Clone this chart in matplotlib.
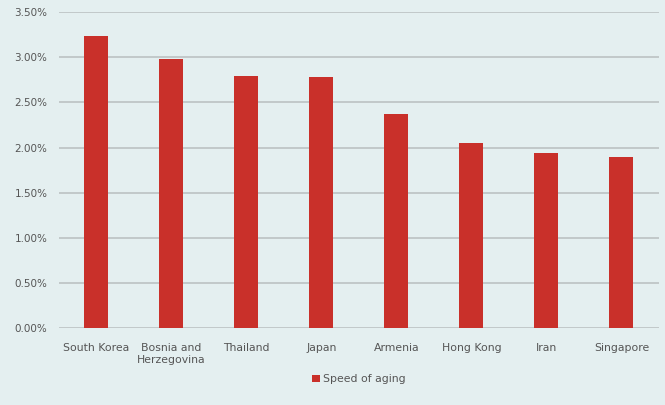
import matplotlib.pyplot as plt
from matplotlib.ticker import PercentFormatter

# dati
paesi = ['South Korea', 'Bosnia and\nHerzegovina', 'Thailand', 'Japan',
         'Armenia', 'Hong Kong', 'Iran', 'Singapore']
velocita = [3.24, 2.98, 2.79, 2.78, 2.37, 2.05, 1.94, 1.89]  # in percento

sfondo = '#e4eff0'
rosso = '#c9302a'

fig = plt.figure(figsize=(6.65, 4.05), dpi=100)
fig.patch.set_facecolor(sfondo)
ax = fig.add_axes([0.088, 0.19, 0.903, 0.78])
ax.set_facecolor(sfondo)

ax.bar(range(len(paesi)), velocita, width=0.32, color=rosso, label='Speed of aging', zorder=3)

ax.set_xlim(-0.5, len(paesi) - 0.5)
ax.set_ylim(0, 3.5)
ax.set_yticks([i * 0.5 for i in range(8)])
ax.yaxis.set_major_formatter(PercentFormatter(decimals=2))
ax.set_xticks(range(len(paesi)))
ax.set_xticklabels(paesi, fontsize=7.8, color='#555555')
ax.tick_params(axis='y', labelsize=7.5, labelcolor='#555555', length=0, pad=8)
ax.tick_params(axis='x', length=0, pad=11)

ax.grid(axis='y', color='#bcc2c3', linewidth=1.2, zorder=0)
for s in ax.spines.values():
    s.set_visible(False)

ax.legend(loc='upper center', bbox_to_anchor=(0.5, -0.115), frameon=False,
          fontsize=7.8, handlelength=0.7, handleheight=0.7, handletextpad=0.3,
          labelcolor='#555555')

fig.savefig('out.png', dpi=100, facecolor=sfondo)
